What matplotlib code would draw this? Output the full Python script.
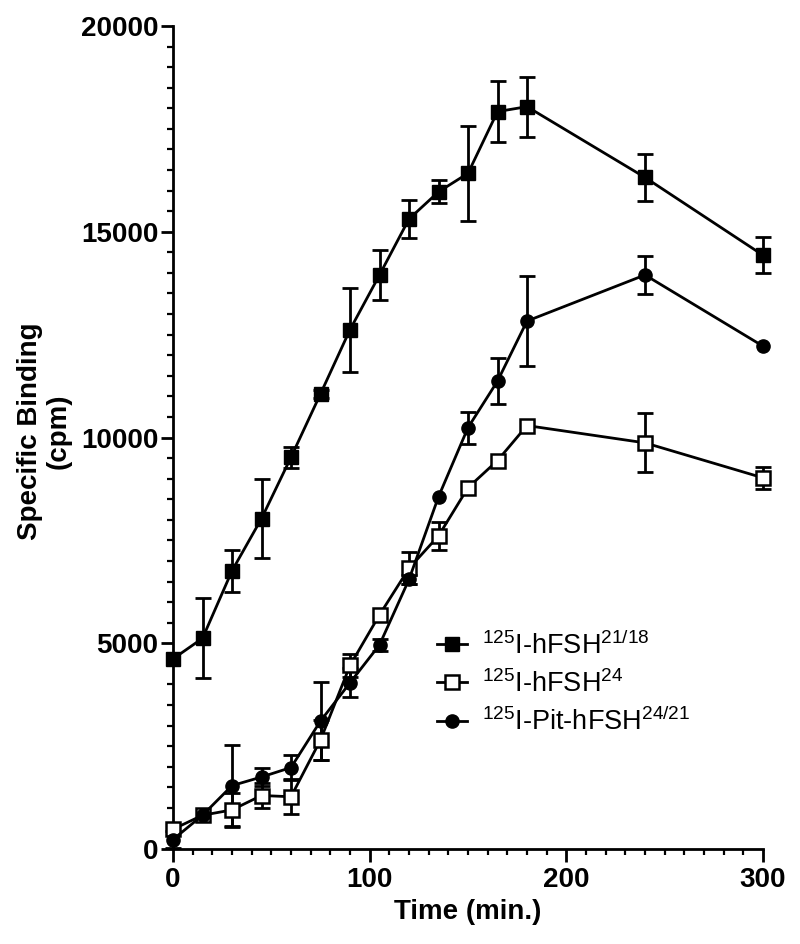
import numpy as np
import matplotlib
matplotlib.use("Agg")
import matplotlib.pyplot as plt
from matplotlib.ticker import MultipleLocator

plt.rcParams['font.family'] = ['Liberation Sans', 'DejaVu Sans']
plt.rcParams['mathtext.fontset'] = 'custom'
plt.rcParams['mathtext.rm'] = 'Liberation Sans'
plt.rcParams['mathtext.it'] = 'Liberation Sans'
plt.rcParams['mathtext.bf'] = 'Liberation Sans:bold'

time = np.array([0, 15, 30, 45, 60, 75, 90, 105, 120, 135, 150, 165, 180, 240, 300])

hfsh2118 = np.array([4620, 5120, 6760, 8030, 9520, 11060, 12620, 13950, 15310, 15970, 16420, 17920, 18040, 16320, 14430])
hfsh2118_err = np.array([0, 970, 510, 950, 250, 100, 1020, 600, 460, 280, 1160, 740, 730, 580, 440])

hfsh24 = np.array([480, 820, 950, 1300, 1270, 2650, 4460, 5690, 6820, 7610, 8780, 9440, 10290, 9870, 9020])
hfsh24_err = np.array([0, 0, 410, 300, 420, 480, 280, 0, 390, 340, 0, 0, 0, 720, 270])

pit2421 = np.array([230, 820, 1540, 1750, 1980, 3110, 4040, 4960, 6550, 8560, 10240, 11370, 12830, 13950, 12220])
pit2421_err = np.array([200, 0, 990, 230, 300, 950, 350, 150, 100, 0, 390, 560, 1090, 460, 0])

labels = [r"$^{125}$I-hFSH$^{21/18}$", r"$^{125}$I-hFSH$^{24}$", r"$^{125}$I-Pit-hFSH$^{24/21}$"]

W, H = 800, 944
fig = plt.figure(figsize=(W / 100, H / 100), dpi=100)
ax = fig.add_axes([173 / W, 1 - 849 / H, (763 - 173) / W, (849 - 26) / H])

series = [
    (hfsh2118, hfsh2118_err, dict(marker='s', mfc='black', mec='black', ms=9.5)),
    (hfsh24, hfsh24_err, dict(marker='s', mfc='white', mec='black', ms=9.5, mew=1.8)),
    (pit2421, pit2421_err, dict(marker='o', mfc='black', mec='black', ms=9.5)),
]

handles = []
for (vals, errs, style), lab in zip(series, labels):
    m = errs > 0
    ax.errorbar(time[m], vals[m], yerr=errs[m], fmt='none', ecolor='black',
                elinewidth=2, capsize=6, capthick=2, zorder=2, clip_on=False)
    h, = ax.plot(time, vals, color='black', lw=2, zorder=3, clip_on=False, label=lab, **style)
    handles.append(h)

ax.set_xlim(0, 300)
ax.set_ylim(0, 20000)
ax.xaxis.set_major_locator(MultipleLocator(100))
ax.xaxis.set_minor_locator(MultipleLocator(10))
ax.yaxis.set_major_locator(MultipleLocator(5000))
ax.yaxis.set_minor_locator(MultipleLocator(500))

for s in ['top', 'right']:
    ax.spines[s].set_visible(False)
for s in ['left', 'bottom']:
    ax.spines[s].set_linewidth(2)

ax.tick_params(which='major', direction='out', length=9, width=2, labelsize=20)
ax.tick_params(axis='y', which='major', pad=1.5)
ax.tick_params(axis='x', which='major', pad=4)
ax.tick_params(which='minor', direction='out', length=4.5, width=1.6)
for lbl in ax.get_xticklabels() + ax.get_yticklabels():
    lbl.set_fontweight('bold')

ax.set_xlabel("Time (min.)", fontsize=20, fontweight='bold', labelpad=4)
ax.set_ylabel("Specific Binding\n(cpm)", fontsize=20, fontweight='bold', labelpad=6,
              linespacing=1.15)
ax.yaxis.set_label_coords(-0.172, 0.507)

leg = ax.legend(handles=handles, loc='upper left', bbox_to_anchor=(437 / W, 1 - 631 / H),
                bbox_transform=fig.transFigure, frameon=False, fontsize=19.5,
                borderpad=0, borderaxespad=0,
                handlelength=1.1, handletextpad=0.55, labelspacing=0.38)

fig.savefig("out.png", dpi=100)
